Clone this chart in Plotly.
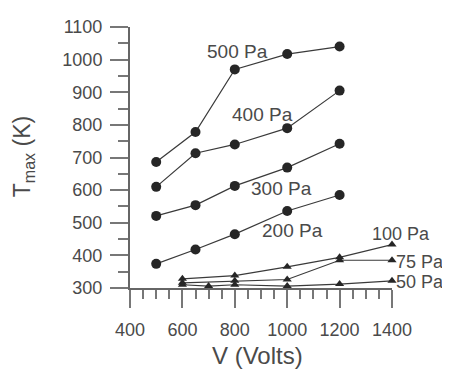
import plotly.graph_objects as go

# Data
v_high = [500, 650, 800, 1000, 1200]
t_500 = [686, 778, 970, 1017, 1040]
t_400 = [610, 713, 740, 790, 905]
t_300 = [521, 554, 613, 669, 742]
t_200 = [374, 418, 465, 536, 585]

v_low = [600, 800, 1000, 1200, 1400]
t_100 = [328, 338, 365, 394, 433]
t_75 = [316, 322, 326, 385, 385]
v_50 = [600, 700, 800, 1000, 1200, 1400]
t_50 = [310, 306, 310, 306, 312, 322]

labels = ["500 Pa", "400 Pa", "300 Pa", "200 Pa"]
label_x = [812, 905, 980, 1022]
label_y = [1026, 831, 604, 477]
edge_labels = ["100 Pa", "75 Pa", "50 Pa"]
edge_label_y = [465, 380, 318]
edge_label_shift = [9, 28, 28]

line_col = "#3a3a3a"
mark_col = "#262626"
text_col = "#4a4a4a"
font_fam = "Liberation Sans, Arial, sans-serif"

fig = go.Figure()
for t in [t_500, t_400, t_300, t_200]:
    fig.add_trace(go.Scatter(x=v_high, y=t, mode="lines+markers",
                             line=dict(color=line_col, width=1.2),
                             marker=dict(symbol="circle", size=10, color=mark_col),
                             cliponaxis=False, showlegend=False))
for xs, t in [(v_low, t_100), (v_low, t_75), (v_50, t_50)]:
    fig.add_trace(go.Scatter(x=xs, y=t, mode="lines+markers",
                             line=dict(color=line_col, width=1.2),
                             marker=dict(symbol="triangle-up", size=8, color=mark_col),
                             cliponaxis=False, showlegend=False))

for txt, lx, ly in zip(labels, label_x, label_y):
    fig.add_annotation(x=lx, y=ly, text=txt, showarrow=False,
                       xanchor="center", yanchor="middle",
                       font=dict(size=19, color=text_col, family=font_fam))
for txt, ly, sh in zip(edge_labels, edge_label_y, edge_label_shift):
    fig.add_annotation(x=1400, y=ly, text=txt, showarrow=False, xshift=sh,
                       xanchor="center", yanchor="middle",
                       font=dict(size=18, color=text_col, family=font_fam))

fig.add_annotation(xref="paper", yref="paper", x=0.485, y=-0.258,
                   xanchor="center", yanchor="middle",
                   text="V (Volts)", showarrow=False,
                   font=dict(size=24, color=text_col, family=font_fam))
fig.add_annotation(xref="paper", yref="paper", x=-0.408, y=0.505,
                   xanchor="center", yanchor="middle",
                   text="T<sub>max</sub> (K)", textangle=-90, showarrow=False,
                   font=dict(size=23, color=text_col, family=font_fam))

axis_common = dict(showline=True, linecolor="#666", linewidth=2,
                   ticks="outside", ticklen=18, tickwidth=2, tickcolor="#777",
                   showgrid=False, zeroline=False, ticklabeloverflow="allow",
                   tickfont=dict(size=18, color=text_col, family=font_fam))
fig.update_xaxes(range=[400, 1400], dtick=200, tick0=400,
                 minor=dict(dtick=50, ticklen=9, tickwidth=2, tickcolor="#777", ticks="outside"),
                 ticklabelstandoff=6, **axis_common)
fig.update_yaxes(range=[300, 1100], dtick=100, tick0=300,
                 minor=dict(dtick=50, ticklen=10, tickwidth=2, tickcolor="#777", ticks="outside"),
                 ticklabelstandoff=4, **axis_common)

# page body has an 8px margin, so margins are offset to line up with the reference
fig.update_layout(width=450, height=376,
                  margin=dict(l=122, r=66, t=9, b=96),
                  plot_bgcolor="white", paper_bgcolor="white",
                  showlegend=False)
fig.write_html("out.html")
